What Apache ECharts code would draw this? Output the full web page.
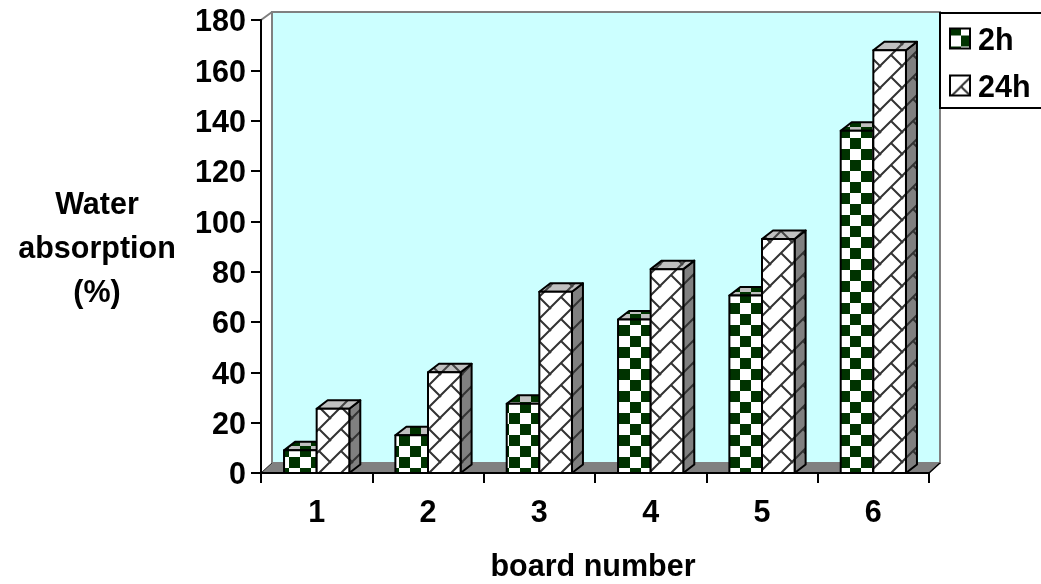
<!DOCTYPE html>
<html>
<head>
<meta charset="utf-8">
<script src="https://cdn.jsdelivr.net/npm/echarts@6/dist/echarts.min.js"></script>
<style>
html, body { margin: 0; padding: 0; background: #fff; }
#main { width: 1041px; height: 584px; }
</style>
</head>
<body>
<div id="main"></div>
<script>
var boards = ['1', '2', '3', '4', '5', '6'];
var hours2 = [9, 15, 27.5, 61, 70.5, 136];
var hours24 = [25.5, 40, 72, 81, 93, 168];
var yTicks = { min: 0, max: 180, interval: 20 };

var labelFont = 'Liberation Sans';
var labelSize = 30.5;
var depthX = 11, depthY = 8.5;

// 棋盘格 22px 一个循环
function checkTile(bg, fg, dx, dy) {
    var c = document.createElement('canvas');
    c.width = c.height = 22;
    var g = c.getContext('2d');
    g.fillStyle = bg;
    g.fillRect(0, 0, 22, 22);
    g.fillStyle = fg;
    [[0, 0], [11, 11], [22, 0], [0, 22], [-11, 11], [11, -11]].forEach(function (p) {
        g.fillRect(p[0] + dx, p[1] + dy, 11, 11);
        g.fillRect(p[0] + dx - 22, p[1] + dy, 11, 11);
        g.fillRect(p[0] + dx, p[1] + dy - 22, 11, 11);
        g.fillRect(p[0] + dx - 22, p[1] + dy - 22, 11, 11);
    });
    return { image: c, repeat: 'repeat' };
}

// 斜向砖纹
function latticeTile(bg, fg) {
    var c = document.createElement('canvas');
    c.width = c.height = 22;
    var g = c.getContext('2d');
    g.fillStyle = bg;
    g.fillRect(0, 0, 22, 22);
    g.strokeStyle = fg;
    g.lineWidth = 2;
    g.beginPath();
    g.moveTo(-2, 24); g.lineTo(24, -2);
    g.moveTo(11, 11); g.lineTo(24, 24);
    g.moveTo(-2, -2); g.lineTo(1, 1);
    g.stroke();
    return { image: c, repeat: 'repeat' };
}

var fill2h = { front: checkTile('#ffffff', '#003300', 14, 6), side: checkTile('#808080', '#002200', 14, 6), top: checkTile('#c0c0c0', '#003300', 14, 6) };
var fill24h = { front: latticeTile('#ffffff', '#333333'), side: latticeTile('#808080', '#333333'), top: latticeTile('#c0c0c0', '#444444') };
// 图例的图案坐标是相对图例的，单独调相位
var legend2h = checkTile('#ffffff', '#003300', 11, 7);

function renderBar(fills, side) {
    return function (params, api) {
        var band = api.size([1, 0])[0];
        var w = band * 0.293;
        var base = api.coord([api.value(0), 0]);
        var top = api.coord([api.value(0), api.value(1)]);
        var x0 = side < 0 ? base[0] - w : base[0];
        var x1 = x0 + w;
        var line = { stroke: '#000', lineWidth: 2, lineJoin: 'round' };
        return {
            type: 'group',
            children: [
                { type: 'polygon', shape: { points: [[x1, top[1]], [x1 + depthX, top[1] - depthY], [x1 + depthX, base[1] - depthY], [x1, base[1]]] },
                    style: Object.assign({ fill: fills.side }, line) },
                { type: 'polygon', shape: { points: [[x0, top[1]], [x0 + depthX, top[1] - depthY], [x1 + depthX, top[1] - depthY], [x1, top[1]]] },
                    style: Object.assign({ fill: fills.top }, line) },
                { type: 'rect', shape: { x: x0, y: top[1], width: w, height: base[1] - top[1] },
                    style: Object.assign({ fill: fills.front }, line) }
            ]
        };
    };
}

function renderWall(params) {
    var r = params.coordSys;
    var l = r.x, b = r.y + r.height, rt = r.x + r.width;
    var backTop = r.y - 8;
    return {
        type: 'group',
        children: [
            { type: 'polygon', shape: { points: [[l + depthX, backTop], [rt + depthX, backTop], [rt + depthX, b - 10], [l + depthX, b - 10]] },
                style: { fill: '#ccffff', stroke: '#808080', lineWidth: 2 } },
            { type: 'line', shape: { x1: l, y1: r.y, x2: l + depthX, y2: backTop },
                style: { stroke: '#808080', lineWidth: 2 } },
            { type: 'polygon', shape: { points: [[l, b], [l + depthX, b - 10], [rt + depthX, b - 10], [rt, b]] },
                style: { fill: '#808080', stroke: '#808080', lineWidth: 1 } },
            { type: 'line', shape: { x1: rt, y1: b, x2: rt + depthX, y2: b - 10 },
                style: { stroke: '#000', lineWidth: 1.5 } },
            { type: 'line', shape: { x1: l, y1: b, x2: l + depthX, y2: b - 10 },
                style: { stroke: '#333', lineWidth: 1 } }
        ]
    };
}

function pairs(values) {
    return values.map(function (v, i) { return [i, v]; });
}

var myChart = echarts.init(document.getElementById('main'), null, { renderer: 'canvas' });

myChart.setOption({
    animation: false,
    backgroundColor: '#ffffff',
    textStyle: { fontFamily: labelFont },
    grid: { left: 261, top: 20, width: 668, height: 453 },
    graphic: [{
        type: 'text',
        x: 97,
        y: 250,
        style: {
            text: 'Water\nabsorption\n(%)',
            align: 'center',
            verticalAlign: 'middle',
            lineHeight: 44,
            fontFamily: labelFont,
            fontSize: labelSize,
            fontWeight: 'bold',
            fill: '#000'
        }
    }, {
        type: 'text',
        x: 593,
        y: 568,
        style: {
            text: 'board number',
            align: 'center',
            verticalAlign: 'middle',
            fontFamily: labelFont,
            fontSize: labelSize,
            fontWeight: 'bold',
            fill: '#000'
        }
    }],
    legend: {
        left: 940,
        top: 13,
        orient: 'vertical',
        padding: [13, 30, 4, 9],
        itemWidth: 20,
        itemHeight: 20,
        itemGap: 16,
        borderColor: '#000',
        borderWidth: 2,
        backgroundColor: '#fff',
        selectedMode: false,
        formatter: function (name) { return '{t|' + name + '}'; },
        textStyle: {
            rich: {
                t: { fontFamily: labelFont, fontSize: labelSize, fontWeight: 'bold', color: '#000', padding: [6, 0, 0, 3] }
            }
        },
        data: [
            { name: '2h', icon: 'rect', itemStyle: { color: legend2h, borderColor: '#000', borderWidth: 2 } },
            { name: '24h', icon: 'rect', itemStyle: { color: fill24h.front, borderColor: '#000', borderWidth: 2 } }
        ]
    },
    xAxis: {
        type: 'category',
        data: boards,
        z: 5,
        axisLine: { lineStyle: { color: '#000', width: 2 } },
        axisTick: { show: true, length: 10, lineStyle: { color: '#000', width: 2 } },
        axisLabel: { margin: 25, fontFamily: labelFont, fontSize: labelSize, fontWeight: 'bold', color: '#000' }
    },
    yAxis: {
        type: 'value',
        min: yTicks.min,
        max: yTicks.max,
        interval: yTicks.interval,
        z: 5,
        splitLine: { show: false },
        axisLine: { show: true, lineStyle: { color: '#000', width: 2 } },
        axisTick: { show: true, length: 10, lineStyle: { color: '#000', width: 2 } },
        axisLabel: { margin: 15, verticalAlign: 'top', lineHeight: 6, fontFamily: labelFont, fontSize: labelSize, fontWeight: 'bold', color: '#000' }
    },
    series: [
        { name: 'wall', type: 'custom', silent: true, z: 1, renderItem: renderWall, data: [[0, 0]] },
        { name: '2h', type: 'custom', z: 2, renderItem: renderBar(fill2h, -1), encode: { x: 0, y: 1 }, data: pairs(hours2) },
        { name: '24h', type: 'custom', z: 3, renderItem: renderBar(fill24h, 1), encode: { x: 0, y: 1 }, data: pairs(hours24) }
    ]
});
</script>
</body>
</html>
